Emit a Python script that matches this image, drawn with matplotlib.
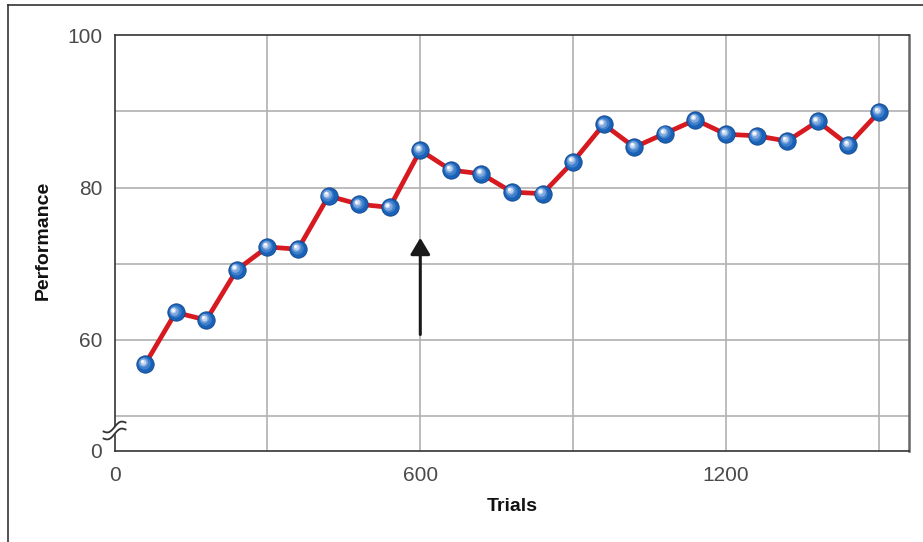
"""
Performance vs. trials line chart with sphere-like markers and an axis break.
"""

import numpy as np
import matplotlib
matplotlib.use("Agg")
import matplotlib.pyplot as plt
from matplotlib.lines import Line2D
from matplotlib import transforms

plt.rcParams['font.family'] = ['Liberation Sans', 'DejaVu Sans']

# Data.
TRIALS = [60, 120, 180, 240, 300, 360, 420, 480, 540, 600,
          660, 720, 780, 840, 900, 960, 1020, 1080, 1140, 1200,
          1260, 1320, 1380, 1440, 1500]
PERFORMANCE = [56.8, 63.6, 62.6, 69.2, 72.2, 71.9, 78.9, 77.8, 77.4, 84.9,
               82.3, 81.8, 79.4, 79.2, 83.4, 88.3, 85.3, 87.1, 88.9, 87.0,
               86.8, 86.1, 88.7, 85.6, 89.9]

X_GRID = [300, 600, 900, 1200, 1500]
X_TICKS = [0, 600, 1200]
Y_GRID = [50, 60, 70, 80, 90]
Y_TICKS = [60, 80, 100]
Y_BOTTOM = 45.4  # broken axis, labelled "0"

ARROW_X = 600
ARROW_FROM = 60.7
ARROW_TO = 73.4

LINE_RED = "#d71920"
BALL_BLUE = "#1a62b8"
TEXT_GRAY = "#4a4a4a"


def sphere(ax, x, y, size):
    """
    Fake a shaded ball with stacked circles, offset to the upper left.
    """
    ax.plot(x, y, 'o', ms=size, color=BALL_BLUE, mec="#12468a", mew=0.6, zorder=4)
    layers = [(0.70, "#3f7fcc", 0.8), (0.50, "#7ea8dc", 1.3),
              (0.32, "#c4d7f0", 1.7), (0.16, "#ffffff", 2.0)]
    for frac, col, off in layers:
        tr = transforms.offset_copy(ax.transData, fig=ax.figure, x=-off, y=off, units='points')
        ax.plot(x, y, 'o', ms=size * frac, color=col, mew=0, transform=tr, zorder=5)


def axis_break(ax):
    """
    Draw the double wave on the left spine near the bottom.
    """
    w_px, h_px = 794.5, 415.7
    t = np.linspace(-1, 1, 60)
    dx = 11 * t
    dy = 4.5 * t + 2.8 * np.sin(np.pi * t)
    cx, cy = 0.0, 20.5
    lower = (cy + dy - 3.5) / h_px
    upper = (cy + dy + 3.5) / h_px
    xs = (cx + dx) / w_px
    ax.fill_between(xs, lower, upper, color='white', transform=ax.transAxes,
                    clip_on=False, zorder=6, lw=0)
    for ys in (lower, upper):
        ax.plot(xs, ys, color="#333333", lw=1.3, transform=ax.transAxes,
                clip_on=False, zorder=7)


def main():
    fig = plt.figure(figsize=(9.23, 5.42), dpi=100)
    ax = fig.add_axes([0.1241, 0.1679, 0.8607, 0.767])

    # Outer frame (left and top only, as in the reference crop).
    fig.add_artist(Line2D([0.009, 0.009], [0, 0.991], color="#333333", lw=1.2,
                          transform=fig.transFigure))
    fig.add_artist(Line2D([0.009, 1.0], [0.991, 0.991], color="#333333", lw=1.2,
                          transform=fig.transFigure))

    ax.set_xlim(0, 1559)
    ax.set_ylim(Y_BOTTOM, 100)

    for gx in X_GRID:
        ax.axvline(gx, color="#b0b0b0", lw=1.2, zorder=1)
    for gy in Y_GRID:
        ax.axhline(gy, color="#b0b0b0", lw=1.2, zorder=1)

    ax.set_xticks(X_TICKS)
    ax.set_xticklabels([str(v) for v in X_TICKS])
    ax.set_yticks([Y_BOTTOM] + Y_TICKS)
    ax.set_yticklabels(["0"] + [str(v) for v in Y_TICKS])
    ax.tick_params(axis='both', length=0, labelsize=15, colors=TEXT_GRAY)
    ax.tick_params(axis='x', pad=11)
    ax.tick_params(axis='y', pad=9)

    for side in ('left', 'top', 'bottom'):
        ax.spines[side].set_color("#333333")
        ax.spines[side].set_linewidth(1.2)
    ax.spines['right'].set_color("#666666")
    ax.spines['right'].set_linewidth(1.8)

    ax.plot(TRIALS, PERFORMANCE, color=LINE_RED, lw=3.4, zorder=3,
            solid_joinstyle='round')
    sphere(ax, TRIALS, PERFORMANCE, 12.5)

    ax.annotate('', xy=(ARROW_X, ARROW_TO), xytext=(ARROW_X, ARROW_FROM),
                arrowprops=dict(arrowstyle='-|>,head_length=0.5,head_width=0.3',
                                lw=2.2, color="#1a1a1a", mutation_scale=20,
                                shrinkA=0, shrinkB=0), zorder=3)

    axis_break(ax)

    ax.set_xlabel("Trials", fontsize=14, fontweight='bold', color="#111111")
    ax.set_ylabel("Performance", fontsize=14, fontweight='bold', color="#111111")
    ax.xaxis.set_label_coords(0.5003, -0.113)
    ax.yaxis.set_label_coords(-0.079, 0.5076)

    fig.savefig("out.png", dpi=100)


if __name__ == "__main__":
    main()
